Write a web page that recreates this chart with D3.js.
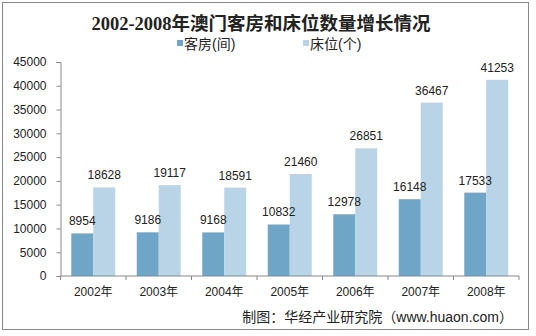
<!DOCTYPE html>
<html>
<head>
<meta charset="utf-8">
<script src="https://cdn.jsdelivr.net/npm/d3@7"></script>
<style>
body{margin:0;background:#fff;}
text{font-family:"Liberation Sans","Noto Sans CJK SC",sans-serif;}
</style>
</head>
<body>
<svg width="536" height="336"></svg>
<script>
var years = ["2002年","2003年","2004年","2005年","2006年","2007年","2008年"];
var rooms = [8954, 9186, 9168, 10832, 12978, 16148, 17533];
var beds = [18628, 19117, 18591, 21460, 26851, 36467, 41253];
var seriesNames = ["客房(间)", "床位(个)"];
var colors = ["#6fa6c8", "#b8d4e6"];

var svg = d3.select('svg');
var plot = {left:60.5, right:519, top:62, bottom:276};

svg.append('rect')
.attr('x',2.5).attr('y',2.5).attr('width',526).attr('height',327)
.attr('fill','none').attr('stroke','#888');

svg.append('text')
.attr('x',261).attr('y',30)
.attr('text-anchor','middle')
.style('font-family','"Liberation Serif","Noto Sans CJK SC",serif')
.style('font-size','18.5px').style('font-weight','bold')
.attr('fill','#222')
.text('2002-2008年澳门客房和床位数量增长情况');

var yScale = d3.scaleLinear().domain([0,45000]).range([plot.bottom,plot.top]);
var xScale = d3.scaleBand().domain(years).range([plot.left,plot.right]);
var xInner = d3.scaleBand().domain([0,1]).range([0,xScale.bandwidth()]).paddingOuter(0.49).paddingInner(0);

var yaxis = d3.axisLeft(yScale).tickValues(d3.range(0,45001,5000)).tickSize(4).tickPadding(10).tickFormat(d3.format('d'));
var gy = svg.append('g').attr('transform','translate('+plot.left+',0)').call(yaxis);
gy.selectAll('line,path').attr('stroke','#888');
gy.selectAll('text').style('font-size','12px').attr('fill','#222');

var data = [rooms, beds];
var barLayer = svg.append('g');
var labelLayer = svg.append('g');
data.forEach(function(vals, s){
  barLayer.append('g').selectAll('rect')
  .data(vals)
  .enter()
  .append('rect')
  .attr('x', function(d,i){ return xScale(years[i]) + xInner(s); })
  .attr('width', xInner.bandwidth())
  .attr('y', function(d){ return yScale(d); })
  .attr('height', function(d){ return plot.bottom - yScale(d); })
  .attr('fill', colors[s]);

  labelLayer.append('g').selectAll('text')
  .data(vals)
  .enter()
  .append('text')
  .attr('x', function(d,i){ return xScale(years[i]) + xInner(s) + xInner.bandwidth()/2; })
  .attr('y', function(d){ return yScale(d) - 8; })
  .attr('text-anchor','middle')
  .style('font-size','12px')
  .attr('fill','#222')
  .text(function(d){ return d; });
});

// x axis with ticks at category boundaries
var gx = svg.append('g').attr('transform','translate(0,'+plot.bottom+')');
gx.append('line').attr('x1',plot.left).attr('x2',plot.right).attr('stroke','#888');
gx.selectAll('line.tk')
.data(years.concat(['end']))
.enter().append('line')
.attr('class','tk')
.attr('x1', function(d,i){ return plot.left + i*xScale.bandwidth(); })
.attr('x2', function(d,i){ return plot.left + i*xScale.bandwidth(); })
.attr('y1',0).attr('y2',4).attr('stroke','#888');
gx.selectAll('text')
.data(years)
.enter().append('text')
.attr('x', function(d){ return xScale(d) + xScale.bandwidth()/2; })
.attr('y', 20)
.attr('text-anchor','middle')
.style('font-size','12px')
.attr('fill','#222')
.text(function(d){ return d; });

// legend
var legendX = [177, 303];
seriesNames.forEach(function(n, i){
  svg.append('rect').attr('x',legendX[i]).attr('y',40).attr('width',6).attr('height',6).attr('fill',colors[i]);
  svg.append('text').attr('x',legendX[i]+7).attr('y',49)
  .style('font-size','14px').attr('fill','#222').text(n);
});

svg.append('text')
.attr('x',513).attr('y',322)
.attr('text-anchor','end')
.style('font-size','14px')
.attr('fill','#222')
.text('制图：华经产业研究院（www.huaon.com）');
</script>
</body>
</html>
